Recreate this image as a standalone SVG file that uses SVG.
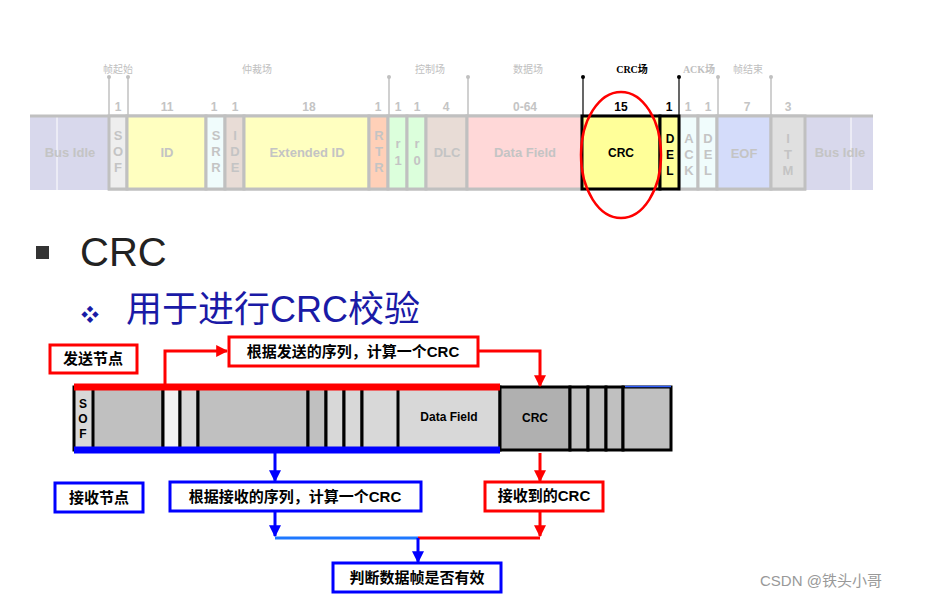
<svg xmlns="http://www.w3.org/2000/svg" width="926" height="600" viewBox="0 0 926 600">
<style>
text{font-family:"Liberation Sans","Noto Sans CJK SC",sans-serif}
.c{stroke:#c0c0c0;stroke-width:3}
.g{fill:#c4c4c4;font-weight:bold;font-size:13px;text-anchor:middle}
.n{fill:#c4c4c4;font-weight:bold;font-size:12px;text-anchor:middle}
.h{fill:#c0c0c0;font-size:10px;text-anchor:middle;font-family:"Liberation Serif","Noto Sans CJK SC",serif}
.m{stroke:#c0c0c0;stroke-width:1.5}
.k{fill:#000;font-weight:bold;font-size:12px;text-anchor:middle}
.rb{fill:#fff;stroke:#f00;stroke-width:3}
.bb{fill:#fff;stroke:#00f;stroke-width:3}
.t{font-size:15px;font-weight:bold;fill:#000}
.cell{stroke:#000;stroke-width:3}
</style>
<defs>
<marker id="ar" viewBox="0 0 10 10" refX="9" refY="5" markerWidth="4" markerHeight="4" orient="auto"><path d="M0,0L10,5L0,10z" fill="#f00"/></marker>
<marker id="ab" viewBox="0 0 10 10" refX="9" refY="5" markerWidth="4" markerHeight="4" orient="auto"><path d="M0,0L10,5L0,10z" fill="#00f"/></marker>
</defs>
<rect width="926" height="600" fill="#fff"/>
<g id="frame">
<rect x="30" y="115" width="78" height="75" fill="#d8d8ec"/><line x1="57" y1="115" x2="57" y2="190" stroke="#fff"/>
<rect x="806" y="115" width="67" height="75" fill="#d8d8ec"/><line x1="851" y1="115" x2="851" y2="190" stroke="#fff"/>
<line x1="30" y1="116" x2="873" y2="116" class="c"/><line x1="108" y1="189" x2="806" y2="189" class="c"/>
<rect x="109" y="116" width="18" height="73" fill="#eee" class="c"/>
<rect x="127" y="116" width="79" height="73" fill="#ffffc0" class="c"/>
<rect x="206" y="116" width="19" height="73" fill="#f0fcfc" class="c"/>
<rect x="225" y="116" width="19" height="73" fill="#e8dcd6" class="c"/>
<rect x="244" y="116" width="125" height="73" fill="#ffffc0" class="c"/>
<rect x="369" y="116" width="19" height="73" fill="#ffd0b8" class="c"/>
<rect x="388" y="116" width="19" height="73" fill="#dcffdc" class="c"/>
<rect x="407" y="116" width="19" height="73" fill="#dcffdc" class="c"/>
<rect x="426" y="116" width="41" height="73" fill="#e8dcd6" class="c"/>
<rect x="467" y="116" width="115" height="73" fill="#ffd8d8" class="c"/>
<rect x="679" y="116" width="19" height="73" fill="#f0fcfc" class="c"/>
<rect x="698" y="116" width="19" height="73" fill="#f0fcfc" class="c"/>
<rect x="717" y="116" width="54" height="73" fill="#d4dcfa" class="c"/>
<rect x="771" y="116" width="34" height="73" fill="#e0e0e0" class="c"/>
<rect x="582" y="116" width="78" height="73" fill="#ffff99" stroke="#000" stroke-width="3"/>
<rect x="660" y="116" width="19" height="73" fill="#ffff99" stroke="#000" stroke-width="3"/>
<text x="70" y="157" class="g">Bus Idle</text><text x="840" y="157" class="g">Bus Idle</text>
<text x="118" y="140" class="g">S</text><text x="118" y="156" class="g">O</text><text x="118" y="172" class="g">F</text>
<text x="167" y="157" class="g">ID</text>
<text x="216" y="140" class="g">S</text><text x="216" y="156" class="g">R</text><text x="216" y="172" class="g">R</text>
<text x="235" y="140" class="g">I</text><text x="235" y="156" class="g">D</text><text x="235" y="172" class="g">E</text>
<text x="307" y="157" class="g">Extended ID</text>
<text x="379" y="140" class="g">R</text><text x="379" y="156" class="g">T</text><text x="379" y="172" class="g">R</text>
<text x="398" y="148" class="g">r</text><text x="398" y="165" class="g">1</text>
<text x="417" y="148" class="g">r</text><text x="417" y="165" class="g">0</text>
<text x="447" y="157" class="g">DLC</text>
<text x="525" y="157" class="g">Data Field</text>
<text x="621" y="157" class="k">CRC</text>
<text x="670" y="143" class="k">D</text><text x="670" y="159" class="k">E</text><text x="670" y="175" class="k">L</text>
<text x="689" y="143" class="g">A</text><text x="689" y="159" class="g">C</text><text x="689" y="175" class="g">K</text>
<text x="708" y="143" class="g">D</text><text x="708" y="159" class="g">E</text><text x="708" y="175" class="g">L</text>
<text x="744" y="158" class="g">EOF</text>
<text x="788" y="143" class="g">I</text><text x="788" y="159" class="g">T</text><text x="788" y="175" class="g">M</text>
<text x="118" y="111" class="n">1</text><text x="167" y="111" class="n">11</text><text x="214" y="111" class="n">1</text><text x="235" y="111" class="n">1</text>
<text x="309" y="111" class="n">18</text><text x="378" y="111" class="n">1</text><text x="398" y="111" class="n">1</text><text x="417" y="111" class="n">1</text>
<text x="446" y="111" class="n">4</text><text x="525" y="111" class="n">0-64</text><text x="621" y="111" class="k">15</text><text x="669" y="111" class="k">1</text>
<text x="688" y="111" class="n">1</text><text x="708" y="111" class="n">1</text><text x="747" y="111" class="n">7</text><text x="788" y="111" class="n">3</text>
<line x1="109" y1="77" x2="109" y2="115" class="m"/><circle cx="109" cy="77" r="2" fill="#c0c0c0"/>
<line x1="128" y1="77" x2="128" y2="115" class="m"/><circle cx="128" cy="77" r="2" fill="#c0c0c0"/>
<line x1="389" y1="77" x2="389" y2="115" class="m"/><circle cx="389" cy="77" r="2" fill="#c0c0c0"/>
<line x1="468" y1="77" x2="468" y2="115" class="m"/><circle cx="468" cy="77" r="2" fill="#c0c0c0"/>
<line x1="718" y1="77" x2="718" y2="115" class="m"/><circle cx="718" cy="77" r="2" fill="#c0c0c0"/>
<line x1="771" y1="77" x2="771" y2="115" class="m"/><circle cx="771" cy="77" r="2" fill="#c0c0c0"/>
<line x1="583" y1="77" x2="583" y2="115" stroke="#000" stroke-width="1.2"/><circle cx="583" cy="77" r="2"/>
<line x1="679" y1="77" x2="679" y2="115" stroke="#000" stroke-width="1.2"/><circle cx="679" cy="77" r="2"/>
<text x="118" y="73" class="h">帧起始</text><text x="257" y="73" class="h">仲裁场</text><text x="430" y="73" class="h">控制场</text>
<text x="528" y="73" class="h">数据场</text><text x="632" y="73" font-size="10" font-weight="bold" text-anchor="middle" style="font-family:'Liberation Serif','Noto Sans CJK SC',serif">CRC场</text>
<text x="699" y="73" class="h" font-weight="bold">ACK场</text><text x="748" y="73" class="h">帧结束</text>
<ellipse cx="621" cy="155" rx="40" ry="63" fill="none" stroke="#f00" stroke-width="2.5"/>
</g>
<g id="title">
<rect x="36" y="246" width="13" height="13" fill="#333"/>
<text x="80" y="266" font-size="40" fill="#222">CRC</text>
<text x="81" y="321" font-size="18" fill="#1a1aa6">❖</text>
<text x="126" y="322" font-size="36" fill="#1a1aa6">用于进行CRC校验</text>
</g>
<g id="bar">
<rect x="74" y="387" width="426" height="63" fill="#d8d8d8" class="cell"/>
<rect x="93" y="387" width="70" height="63" fill="#c0c0c0" class="cell"/>
<rect x="163" y="387" width="17" height="63" fill="#f2f2f2" class="cell"/>
<rect x="180" y="387" width="18" height="63" fill="#d8d8d8" class="cell"/>
<rect x="198" y="387" width="110" height="63" fill="#c0c0c0" class="cell"/>
<rect x="308" y="387" width="18" height="63" fill="#c0c0c0" class="cell"/>
<rect x="326" y="387" width="18" height="63" fill="#d8d8d8" class="cell"/>
<rect x="344" y="387" width="18" height="63" fill="#d8d8d8" class="cell"/>
<rect x="362" y="387" width="36" height="63" fill="#d8d8d8" class="cell"/>
<rect x="500" y="387" width="70" height="63" fill="#b0b0b0" class="cell"/>
<rect x="570" y="387" width="18" height="63" fill="#c0c0c0" class="cell"/>
<rect x="588" y="387" width="18" height="63" fill="#c0c0c0" class="cell"/>
<rect x="606" y="387" width="17" height="63" fill="#c0c0c0" class="cell"/>
<rect x="623" y="387" width="48" height="63" fill="#c0c0c0" class="cell"/>
<line x1="625" y1="386.5" x2="671" y2="386.5" stroke="#3060ff" stroke-width="1.5"/>
<text x="83" y="408" class="k" font-size="11">S</text><text x="83" y="423" class="k" font-size="11">O</text><text x="83" y="438" class="k" font-size="11">F</text>
<text x="449" y="421" font-weight="bold" font-size="12" text-anchor="middle">Data Field</text>
<text x="535" y="422" font-weight="bold" font-size="12" text-anchor="middle">CRC</text>
<line x1="74" y1="387" x2="500" y2="387" stroke="#f00" stroke-width="7"/>
<line x1="74" y1="450" x2="500" y2="450" stroke="#00f" stroke-width="7"/>
</g>
<g id="connectors" fill="none" stroke-width="3">
<polyline points="165,384 165,351 227,351" stroke="#f00" marker-end="url(#ar)"/>
<polyline points="478,351 540,351 540,386" stroke="#f00" marker-end="url(#ar)"/>
<polyline points="540,453 540,481" stroke="#f00" marker-end="url(#ar)"/>
<polyline points="540,512 540,536" stroke="#f00" marker-end="url(#ar)"/>
<polyline points="275,453 275,481" stroke="#00f" marker-end="url(#ab)"/>
<polyline points="275,512 275,536" stroke="#00f" marker-end="url(#ab)"/>
<line x1="275" y1="538" x2="418" y2="538" stroke="#1e78ff"/>
<line x1="418" y1="538" x2="540" y2="538" stroke="#f00"/>
<polyline points="418,538 418,562" stroke="#00f" marker-end="url(#ab)"/>
</g>
<g id="send"><rect x="50" y="345" width="87" height="28" class="rb"/><text x="93" y="364" class="t" text-anchor="middle">发送节点</text></g>
<g id="sendcalc"><rect x="229" y="337" width="249" height="29" class="rb"/><text x="353" y="357" class="t" text-anchor="middle">根据发送的序列，计算一个CRC</text></g>
<g id="recv"><rect x="55" y="483" width="88" height="29" class="bb"/><text x="99" y="503" class="t" text-anchor="middle">接收节点</text></g>
<g id="recvcalc"><rect x="170" y="482" width="251" height="29" class="bb"/><text x="295" y="502" class="t" text-anchor="middle">根据接收的序列，计算一个CRC</text></g>
<g id="recvcrc"><rect x="485" y="482" width="118" height="29" class="rb"/><text x="544" y="501" class="t" text-anchor="middle">接收到的CRC</text></g>
<g id="judge"><rect x="333" y="563" width="168" height="29" class="bb"/><text x="417" y="583" class="t" text-anchor="middle">判断数据帧是否有效</text></g>
<text x="760" y="586" font-size="15" fill="#999">CSDN @铁头小哥</text>
</svg>
